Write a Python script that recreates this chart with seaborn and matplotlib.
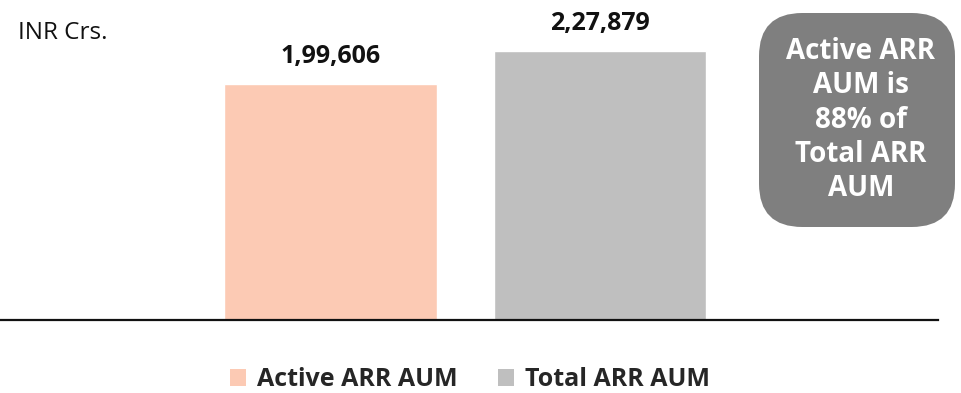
import matplotlib
matplotlib.use("Agg")
import matplotlib.pyplot as plt
from matplotlib.patches import FancyBboxPatch, Patch
import seaborn as sns
import pandas as pd

categories = ["Active ARR AUM", "Total ARR AUM"]
values = [199606, 227879]
colors = ["#FCCAB4", "#BFBFBF"]
unit_label = "INR Crs."
note_text = "Active ARR\nAUM is\n88% of\nTotal ARR\nAUM"


def indian_format(n):
    s = str(int(n))
    if len(s) <= 3:
        return s
    head, tail = s[:-3], s[-3:]
    groups = []
    while len(head) > 2:
        groups.insert(0, head[-2:])
        head = head[:-2]
    if head:
        groups.insert(0, head)
    return ",".join(groups) + "," + tail


sns.set_theme(style="white")
plt.rcParams["font.family"] = ["Open Sans", "DejaVu Sans"]

df = pd.DataFrame({"category": categories, "value": values})

fig = plt.figure(figsize=(9.62, 3.93), dpi=100)
ax = fig.add_axes([0.0, 73 / 393, 938 / 962, 320 / 393])

sns.barplot(data=df, x="category", y="value", hue="category",
            palette=colors, width=0.79, dodge=False, legend=False,
            saturation=1, ax=ax)

ax.set_xlim(-1.226, 2.254)
ax.set_ylim(0, 271000)
for s in ["top", "left", "right"]:
    ax.spines[s].set_visible(False)
ax.spines["bottom"].set_color("#111111")
ax.spines["bottom"].set_linewidth(1.6)
ax.set_xticks([])
ax.set_yticks([])
ax.set_xlabel("")
ax.set_ylabel("")

# Value labels above each bar
for i, v in enumerate(values):
    ax.annotate(indian_format(v), (i, v), xytext=(0, 11), textcoords="offset points",
                ha="center", va="bottom", fontsize=18, fontweight="bold",
                color="#111111")

# Unit label
fig.text(18 / 962, 1 - 33 / 393, unit_label, ha="left", va="center",
         fontsize=17.5, color="#111111")

# Call-out box on the right
box = FancyBboxPatch((759 / 962, 1 - 227 / 393), 196 / 962, 214 / 393,
                     boxstyle="round,pad=0,rounding_size=0.045",
                     transform=fig.transFigure, facecolor="#7F7F7F",
                     edgecolor="none", mutation_aspect=962 / 393)
fig.patches.append(box)
fig.text(861 / 962, 1 - 120 / 393, note_text, ha="center", va="center",
         fontsize=20, fontweight="bold", color="white", linespacing=1.24)

# Legend
handles = [Patch(facecolor=c, edgecolor="none", label=l) for c, l in zip(colors, categories)]
fig.legend(handles=handles, loc="center", bbox_to_anchor=(470 / 962, 1 - 380 / 393),
           ncol=2, frameon=False, handlelength=0.65, handleheight=0.65,
           handletextpad=0.45, columnspacing=1.6,
           prop={"size": 18, "weight": "bold"})

fig.savefig("out.png", dpi=100)
